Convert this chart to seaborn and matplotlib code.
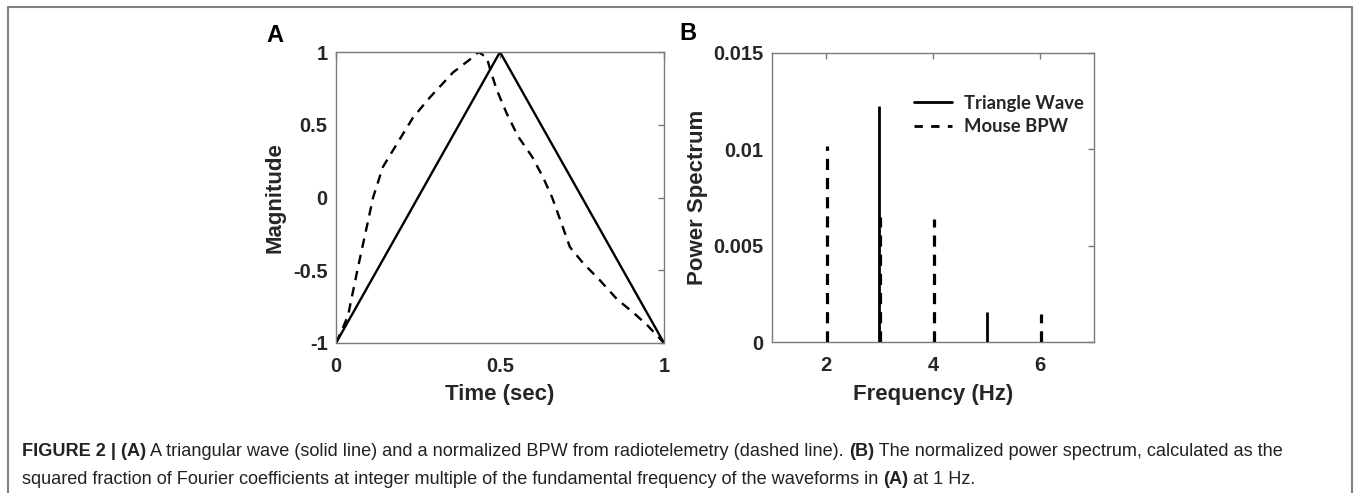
import numpy as np
import pandas as pd
import matplotlib
matplotlib.use("Agg")
import matplotlib.pyplot as plt
import matplotlib.transforms as mtransforms
import seaborn as sns
from matplotlib.lines import Line2D

# Panel A: one cycle of the waveforms
tri_t = [0.0, 0.5, 1.0]
tri_v = [-1.0, 1.0, -1.0]

bpw_t = [0.0, 0.02, 0.037, 0.045, 0.067, 0.094, 0.113, 0.143, 0.186, 0.235, 0.287,
         0.357, 0.409, 0.435, 0.46, 0.47, 0.49, 0.52, 0.555, 0.598, 0.631, 0.659,
         0.683, 0.713, 0.753, 0.805, 0.857, 0.906, 0.95, 1.0]
bpw_v = [-1.0, -0.9, -0.81, -0.72, -0.48, -0.20, 0.00, 0.21, 0.37, 0.55, 0.69,
         0.86, 0.95, 1.0, 0.96, 0.88, 0.74, 0.58, 0.42, 0.28, 0.14, 0.00,
         -0.15, -0.34, -0.45, -0.57, -0.70, -0.79, -0.88, -1.0]

# Panel B: power spectrum at integer harmonics
tri_freq = [3, 5]
tri_power = [0.01225, 0.00156]
bpw_freq = [2, 3, 4, 6]
bpw_power = [0.01017, 0.00649, 0.00638, 0.00145]

sns.set_theme(style="white")
plt.rcParams['font.family'] = ['Liberation Sans', 'DejaVu Sans']

W, H = 1354, 493
fig = plt.figure(figsize=(W / 100, H / 100), dpi=100)

axis_grey = "#7a7a7a"
txt = "#262626"
bold_font = dict(family="Liberation Sans", weight="bold")


def style_axes(ax):
    for s in ax.spines.values():
        s.set_color(axis_grey)
        s.set_linewidth(1.0)
        s.set_visible(True)
    ax.tick_params(direction="in", length=4, width=1, color=axis_grey,
                   top=True, right=True, labelcolor=txt, labelsize=14.5)
    ax.tick_params(axis="y", pad=6)
    ax.tick_params(axis="x", pad=10)
    for lab in ax.get_xticklabels() + ax.get_yticklabels():
        lab.set_fontweight("bold")
        lab.set_family("Liberation Sans")


# ---- panel A
axA = fig.add_axes([336 / W, 1 - 343 / H, 328 / W, 291 / H])
dfA = pd.DataFrame({"t": tri_t, "v": tri_v})
dfB = pd.DataFrame({"t": bpw_t, "v": bpw_v})
sns.lineplot(data=dfA, x="t", y="v", ax=axA, color="black", linewidth=1.7, sort=False)
sns.lineplot(data=dfB, x="t", y="v", ax=axA, color="black", linewidth=1.7, sort=False,
             linestyle=(0, (4, 3)))
axA.set_xlim(0, 1)
axA.set_ylim(-1, 1)
axA.set_xticks([0, 0.5, 1])
axA.set_xticklabels(["0", "0.5", "1"])
axA.set_yticks([-1, -0.5, 0, 0.5, 1])
axA.set_yticklabels(["-1", "-0.5", "0", "0.5", "1"])
style_axes(axA)
axA.set_xlabel("Time (sec)", fontsize=16, color=txt, **bold_font)
axA.set_ylabel("Magnitude", fontsize=16, color=txt, **bold_font)
axA.xaxis.set_label_coords(0.5, -0.141)
axA.yaxis.set_label_coords(-0.155, 0.5)

# ---- panel B
axB = fig.add_axes([772 / W, 1 - 342 / H, 322 / W, 289 / H])
# nudge the dashed stems a pixel right so the one at 3 Hz peeks out from the solid one
shift = mtransforms.ScaledTranslation(0.011, 0, fig.dpi_scale_trans)
axB.vlines(bpw_freq, 0, bpw_power, colors="black", linewidth=2.3,
           linestyles=[(0, (3.5, 2.5))], transform=axB.transData + shift, zorder=2)
axB.vlines(tri_freq, 0, tri_power, colors="black", linewidth=2.0, zorder=3)
axB.set_xlim(1, 7)
axB.set_ylim(0, 0.015)
axB.set_xticks([2, 4, 6])
axB.set_yticks([0, 0.005, 0.01, 0.015])
axB.set_yticklabels(["0", "0.005", "0.01", "0.015"])
style_axes(axB)
axB.set_xlabel("Frequency (Hz)", fontsize=16, color=txt, **bold_font)
axB.set_ylabel("Power Spectrum", fontsize=16, color=txt, **bold_font)
axB.xaxis.set_label_coords(0.5, -0.145)
axB.yaxis.set_label_coords(-0.20, 0.5)

handles = [Line2D([], [], color="black", linewidth=2.0),
           Line2D([], [], color="black", linewidth=2.0, linestyle=(0, (3, 3)))]
leg = axB.legend(handles, ["Triangle Wave", "Mouse BPW"], frameon=False,
                 loc="upper left", bbox_to_anchor=(0.44, 0.855), borderaxespad=0,
                 borderpad=0, handlelength=2.1, handletextpad=0.6, labelspacing=0.35,
                 prop=dict(family="Lato", weight="bold", size=13.3))
for t in leg.get_texts():
    t.set_color(txt)

# panel letters
fig.text(275 / W, 1 - 35 / H, "A", ha="center", va="center", fontsize=17,
         color="black", **bold_font)
fig.text(688 / W, 1 - 34 / H, "B", ha="center", va="center", fontsize=17,
         color="black", **bold_font)

# outer frame
frame_kw = dict(color="#808080", linewidth=1.5, transform=fig.transFigure)
fig.add_artist(Line2D([8 / W, 8 / W], [0, 1 - 7 / H], **frame_kw))
fig.add_artist(Line2D([8 / W, 1352 / W], [1 - 7 / H, 1 - 7 / H], **frame_kw))
fig.add_artist(Line2D([1352 / W, 1352 / W], [0, 1 - 7 / H], **frame_kw))

# caption with mixed bold runs
cap1 = [("FIGURE 2 | (A)", True),
        (" A triangular wave (solid line) and a normalized BPW from radiotelemetry (dashed line). ", False),
        ("(B)", True),
        (" The normalized power spectrum, calculated as the", False)]
cap2 = [("squared fraction of Fourier coefficients at integer multiple of the fundamental frequency of the waveforms in ", False),
        ("(A)", True),
        (" at 1 Hz.", False)]

renderer = fig.canvas.get_renderer()


def place_line(runs, x0, y_base, size):
    x = x0
    items = []
    for s, b in runs:
        t = fig.text(x / W, 1 - y_base / H, s, fontsize=size, va="baseline", ha="left",
                     family="Liberation Sans", weight="bold" if b else "normal",
                     color="#222222")
        ext = t.get_window_extent(renderer)
        x += ext.width
        items.append(t)
    return items, x - x0


# fit font size so line 1 spans the same width as in the reference
size = 11.0
items, width = place_line(cap1, 22, 456, size)
for t in items:
    t.remove()
size = size * 1258 / width
place_line(cap1, 22, 456, size)
place_line(cap2, 22, 484, size)

fig.savefig("out.png", dpi=100)
